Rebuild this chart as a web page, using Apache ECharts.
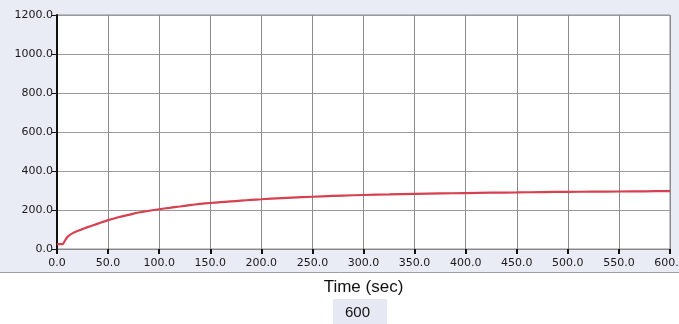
<!DOCTYPE html>
<html>
<head>
<meta charset="utf-8">
<script src="https://cdn.jsdelivr.net/npm/echarts@6/dist/echarts.min.js"></script>
<style>
html,body{margin:0;padding:0;background:#fff;}
#chart{width:679px;height:324px;}
</style>
</head>
<body>
<div id="chart"></div>
<script>
var times = [0,5,6,8,10,12,15,20,25,30,40,50,60,70,80,90,100,110,120,130,140,150,160,170,180,190,200,220,240,260,280,300,325,350,375,400,425,450,475,500,525,550,575,600];
var values = [25,25,27,45,60,70,80,92,102,112,130,148,163,175,187,196,204,211,218,225,231,236,240,244,248,252,255,261,266,270,274,277,280,283,285,287,289,290,292,293,294,295,296,297];
var xTicks = {min:0, max:600, step:50};
var yTicks = {min:0, max:1200, step:200};
var xTitle = 'Time (sec)';
var boxValue = '600';

var pts = times.map(function(t,i){return [t, values[i]];});
var chart = echarts.init(document.getElementById('chart'));
var labelFont = {fontFamily:'DejaVu Sans', fontSize:11, color:'#1a1a1a'};
chart.setOption({
  backgroundColor:'#ffffff',
  animation:false,
  graphic:[
    {type:'rect', z:-10, shape:{x:0,y:0,width:679,height:272}, style:{fill:'#e9ebf5'}},
    {type:'line', z:-9, shape:{x1:0,y1:272.5,x2:679,y2:272.5}, style:{stroke:'#9a9cab', lineWidth:1}},
    {type:'rect', z:-10, shape:{x:333,y:299,width:54,height:25}, style:{fill:'#e6e9f4'}},
    {type:'text', left:345, top:305, style:{text:boxValue, font:'15px "Liberation Sans", Arial, sans-serif', fill:'#111'}}
  ],
  grid:{left:57, right:9, top:15, bottom:75, outerBoundsMode:'none', containLabel:false, show:true, backgroundColor:'#ffffff', borderColor:'#8a8a8a', borderWidth:1},
  xAxis:{
    type:'value', min:xTicks.min, max:xTicks.max, interval:xTicks.step,
    name:xTitle, nameLocation:'middle', nameGap:30,
    nameTextStyle:{fontFamily:'Liberation Sans', fontSize:17, color:'#111'},
    axisLine:{show:true, onZero:false, lineStyle:{color:'#8a8a8a', width:1}},
    axisTick:{show:true, length:5, lineStyle:{color:'#111', width:2}},
    axisLabel:Object.assign({margin:9, formatter:function(v){return v.toFixed(1);}}, labelFont),
    splitLine:{show:true, lineStyle:{color:'#8c8c8c', width:1}}
  },
  yAxis:{
    type:'value', min:yTicks.min, max:yTicks.max, interval:yTicks.step,
    axisLine:{show:true, lineStyle:{color:'#111', width:2}},
    axisTick:{show:true, length:5, lineStyle:{color:'#111', width:1}},
    axisLabel:Object.assign({margin:4, formatter:function(v){return v.toFixed(1);}}, labelFont),
    splitLine:{show:true, lineStyle:{color:'#9a9a9a', width:1}}
  },
  series:[{
    type:'line', data:pts, showSymbol:false, smooth:0.3,
    lineStyle:{color:'#d6404f', width:2.2}
  }]
});
</script>
</body>
</html>
